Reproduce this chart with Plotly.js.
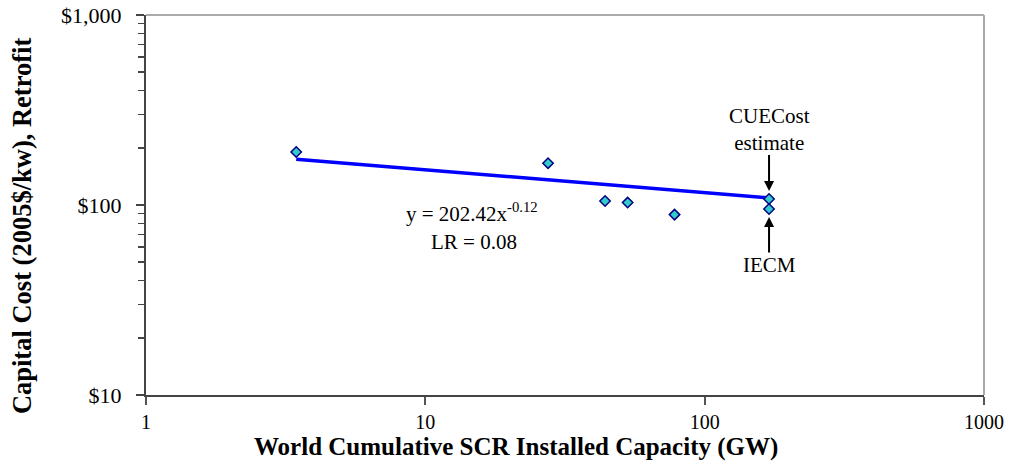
<!DOCTYPE html>
<html>
<head>
<meta charset="utf-8">
<script src="https://cdn.plot.ly/plotly-3.0.1.min.js"></script>
<style>
  html, body { margin: 0; padding: 0; background: #fff; }
  #chart { width: 1010px; height: 476px; }
</style>
</head>
<body>
<div id="chart"></div>
<script>
// Cumulative SCR capacity (GW) vs retrofit capital cost (2005 $/kW)
const capacityGW = [3.45, 27.5, 44, 53, 78, 170, 170];
const capitalCost = [190, 166, 105, 103, 89, 107.5, 95.3];

// Power-law fit end points, y = 202.42 x^-0.12
const fitX = [3.45, 170];
const fitY = [174, 109];

// Tool estimates marked with arrows
const cuecostPoint = { x: 170, y: 107.5 };
const iecmPoint = { x: 170, y: 95.3 };

const xTickVals = [1, 10, 100, 1000];
const xTickText = ['1', '10', '100', '1000'];
const yTickVals = [10, 100, 1000];
const yTickText = ['$10', '$100', '$1,000'];

const serif = 'Liberation Serif, Times New Roman, serif';

const traces = [
  {
    x: fitX, y: fitY, type: 'scatter', mode: 'lines',
    line: { color: '#0000FF', width: 3.5 },
    hoverinfo: 'skip', showlegend: false
  },
  {
    x: capacityGW, y: capitalCost, type: 'scatter', mode: 'markers',
    marker: { symbol: 'diamond', size: 8, color: '#33CCCC',
              line: { color: '#000080', width: 1.5 } },
    showlegend: false
  }
];

const annFont = { family: serif, size: 21, color: '#000' };
const titleFont = { family: serif, size: 25, color: '#000' };

const layout = {
  width: 1010, height: 476,
  margin: { l: 146, r: 26, t: 15, b: 81 },
  paper_bgcolor: '#fff', plot_bgcolor: '#fff',
  showlegend: false,
  font: { family: serif, color: '#000' },
  xaxis: {
    type: 'log', range: [0, 3],
    tickmode: 'array', tickvals: xTickVals, ticktext: xTickText,
    ticks: 'outside', ticklen: 8, tickwidth: 2, tickcolor: '#555',
    showline: true, linecolor: '#444', linewidth: 2,
    showgrid: false, zeroline: false,
    tickfont: { family: serif, size: 20, color: '#000' }
  },
  yaxis: {
    type: 'log', range: [1, 3],
    tickmode: 'array', tickvals: yTickVals, ticktext: yTickText,
    ticks: 'outside', ticklen: 8, tickwidth: 2, tickcolor: '#444',
    minor: { ticks: 'outside', ticklen: 6, tickwidth: 1.5, tickcolor: '#444', dtick: 'D1', showgrid: false },
    showline: true, linecolor: '#444', linewidth: 2,
    showgrid: false, zeroline: false,
    ticklabelstandoff: 10,
    tickfont: { family: serif, size: 22, color: '#000' }
  },
  shapes: [
    { type: 'line', xref: 'paper', yref: 'paper', x0: 0, x1: 1, y0: 1, y1: 1,
      line: { color: '#AAAAAA', width: 2 } },
    { type: 'line', xref: 'paper', yref: 'paper', x0: 1, x1: 1, y0: 0, y1: 1,
      line: { color: '#AAAAAA', width: 2 } }
  ],
  annotations: [
    // axis titles, centred on the chart area
    { xref: 'paper', yref: 'paper', x: 0.4415, y: -0.137,
      xanchor: 'center', yanchor: 'middle',
      text: '<b>World Cumulative SCR Installed Capacity (GW)</b>',
      showarrow: false, font: titleFont },
    { xref: 'paper', yref: 'paper', x: -0.148, y: 0.447, textangle: -90,
      xanchor: 'center', yanchor: 'middle',
      text: '<b>Capital Cost (2005$/kw), Retrofit</b>',
      showarrow: false, font: { family: serif, size: 26.5, color: '#000' } },
    // fit equation
    { x: Math.log10(14.7), y: Math.log10(91), xref: 'x', yref: 'y',
      text: 'y = 202.42x<sup>-0.12</sup>', showarrow: false, font: annFont },
    { x: Math.log10(14.9), y: Math.log10(63.5), xref: 'x', yref: 'y',
      text: 'LR = 0.08', showarrow: false, font: annFont },
    // labelled arrows to the two tool estimates
    { x: Math.log10(cuecostPoint.x), y: Math.log10(cuecostPoint.y), xref: 'x', yref: 'y',
      text: 'CUECost<br>estimate', font: annFont, borderpad: 0,
      showarrow: true, ax: 0, ay: -70, standoff: 8,
      arrowhead: 2, arrowsize: 1, arrowwidth: 2, arrowcolor: '#000' },
    { x: Math.log10(iecmPoint.x), y: Math.log10(iecmPoint.y), xref: 'x', yref: 'y',
      text: 'IECM', font: annFont, borderpad: 0,
      showarrow: true, ax: 0, ay: 56, standoff: 8,
      arrowhead: 2, arrowsize: 1, arrowwidth: 2, arrowcolor: '#000' }
  ]
};

Plotly.newPlot('chart', traces, layout, { displayModeBar: false, staticPlot: true });
</script>
</body>
</html>
